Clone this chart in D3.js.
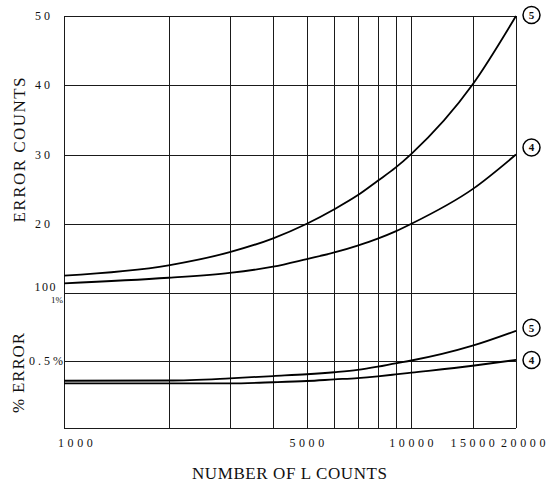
<!DOCTYPE html>
<html>
<head>
<meta charset="utf-8">
<script src="https://cdn.jsdelivr.net/npm/d3@7"></script>
<style>
  html, body { margin: 0; padding: 0; background: #fff; }
  svg { display: block; }
  text { font-family: "Liberation Serif", "Times New Roman", serif; fill: #111; }
</style>
</head>
<body>
<svg id="chart" width="553" height="484"></svg>
<script>
// ---- data ----
const lCounts = [1000, 2000, 3000, 4000, 5000, 6000, 7000, 8000, 9000, 10000, 15000, 20000];
const errorCounts5 = [12.5, 14.0, 15.9, 17.9, 20.0, 22.1, 24.1, 26.2, 28.1, 30.1, 40.1, 50.0];
const errorCounts4 = [11.4, 12.2, 12.9, 13.8, 14.9, 15.85, 16.85, 17.85, 18.9, 20.0, 25.0, 30.0];
const pctError5 = [0.35, 0.352, 0.368, 0.385, 0.398, 0.413, 0.43, 0.454, 0.479, 0.50, 0.61, 0.72];
const pctError4 = [0.33, 0.33, 0.331, 0.339, 0.348, 0.36, 0.37, 0.383, 0.397, 0.41, 0.461, 0.504];
const xGridValues = [1000, 2000, 3000, 4000, 5000, 6000, 7000, 8000, 9000, 10000, 15000, 20000];
const xTickLabels = ["1000", "5000", "10000", "15000", "20000"];
const countTicks = [50, 40, 30, 20];
const countTickLabels = ["50", "40", "30", "20"];
const countBaseLabel = "100";
const pctTicks = [1, 0.5];
const pctTickLabels = ["1%", "0.5%"];
const seriesNames = ["5", "4"];

// ---- scales ----
const svg = d3.select("#chart");
const x = d3.scaleLog().domain([1000, 20000]).range([64, 516]);
const yTop = d3.scaleLinear().domain([10, 50]).range([293, 16]);
const yBot = d3.scaleLinear().domain([0, 1]).range([428, 293]);

const grid = svg.append("g").attr("stroke", "#1a1a1a").attr("stroke-width", 1).attr("fill", "none");

// vertical grid lines
grid.selectAll("line.v").data(xGridValues).join("line")
  .attr("x1", d => Math.round(x(d)) + 0.5).attr("x2", d => Math.round(x(d)) + 0.5)
  .attr("y1", yTop(50)).attr("y2", yBot(0));
// top panel horizontal lines
grid.selectAll("line.ht").data([50, 40, 30, 20, 10]).join("line")
  .attr("x1", x(1000)).attr("x2", x(20000))
  .attr("y1", d => Math.round(yTop(d)) + 0.5).attr("y2", d => Math.round(yTop(d)) + 0.5);
// bottom panel horizontal lines
grid.selectAll("line.hb").data([0.5, 0]).join("line")
  .attr("x1", x(1000)).attr("x2", x(20000))
  .attr("y1", d => Math.round(yBot(d)) + 0.5).attr("y2", d => Math.round(yBot(d)) + 0.5);

// ---- curves ----
const lineTop = d3.line().x((d, i) => x(lCounts[i])).y(d => yTop(d)).curve(d3.curveMonotoneX);
const lineBot = d3.line().x((d, i) => x(lCounts[i])).y(d => yBot(d)).curve(d3.curveMonotoneX);
const curves = svg.append("g").attr("fill", "none").attr("stroke", "#000").attr("stroke-width", 1.8);
[errorCounts5, errorCounts4].forEach(s => curves.append("path").attr("d", lineTop(s)));
[pctError5, pctError4].forEach(s => curves.append("path").attr("d", lineBot(s)));

// ---- circled series labels ----
const ends = [
  { name: seriesNames[0], y: yTop(errorCounts5[errorCounts5.length - 1]) - 1 },
  { name: seriesNames[1], y: yTop(errorCounts4[errorCounts4.length - 1]) - 7 },
  { name: seriesNames[0], y: yBot(pctError5[pctError5.length - 1]) - 3 },
  { name: seriesNames[1], y: yBot(pctError4[pctError4.length - 1]) }
];
const lab = svg.append("g").selectAll("g").data(ends).join("g")
  .attr("transform", d => `translate(${x(20000) + 15.5},${d.y})`);
lab.append("circle").attr("r", 8.5).attr("fill", "#fff").attr("stroke", "#000").attr("stroke-width", 1.5);
lab.append("text").text(d => d.name).attr("text-anchor", "middle").attr("dy", "0.36em")
  .attr("font-size", 11).attr("font-weight", "bold");

// ---- tick labels ----
const tickFont = 12, tickSpacing = 3, xTickSpacing = 3.6;
// x tick labels
svg.append("g").selectAll("text").data(xTickLabels).join("text")
  .text(d => d)
  .attr("x", (d, i) => x(+d) + (i === 0 ? -6 : (i === xTickLabels.length - 1 ? -15 : -(d.length * (6 + xTickSpacing) - xTickSpacing) / 2)))
  .attr("y", 447)
  .attr("text-anchor", "start")
  .attr("font-size", tickFont).attr("letter-spacing", xTickSpacing);

// count tick labels
svg.append("g").selectAll("text").data(countTicks).join("text")
  .text((d, i) => countTickLabels[i])
  .attr("x", 53).attr("y", d => yTop(d) + 4)
  .attr("text-anchor", "end")
  .attr("font-size", tickFont).attr("letter-spacing", tickSpacing);
svg.append("text").text(countBaseLabel)
  .attr("x", 57).attr("y", yTop(10) - 2)
  .attr("text-anchor", "end")
  .attr("font-size", tickFont).attr("letter-spacing", 1.5);

// percent tick labels
svg.append("text").text(pctTickLabels[0])
  .attr("x", 63).attr("y", yBot(pctTicks[0]) + 10)
  .attr("text-anchor", "end").attr("font-size", 9);
svg.append("text").text(pctTickLabels[1])
  .attr("x", 66).attr("y", yBot(pctTicks[1]) + 4)
  .attr("text-anchor", "end")
  .attr("font-size", tickFont).attr("letter-spacing", tickSpacing);

// ---- axis titles ----
svg.append("text").text("ERROR COUNTS")
  .attr("transform", "translate(25,150) rotate(-90)")
  .attr("text-anchor", "middle").attr("font-size", 17)
  .attr("textLength", 145).attr("lengthAdjust", "spacing");
svg.append("text").text("% ERROR")
  .attr("transform", "translate(24,373) rotate(-90)")
  .attr("text-anchor", "middle").attr("font-size", 17)
  .attr("textLength", 80).attr("lengthAdjust", "spacing");
svg.append("text").text("NUMBER OF L COUNTS")
  .attr("x", 289.5).attr("y", 479)
  .attr("text-anchor", "middle").attr("font-size", 17)
  .attr("textLength", 195).attr("lengthAdjust", "spacing");
</script>
</body>
</html>
